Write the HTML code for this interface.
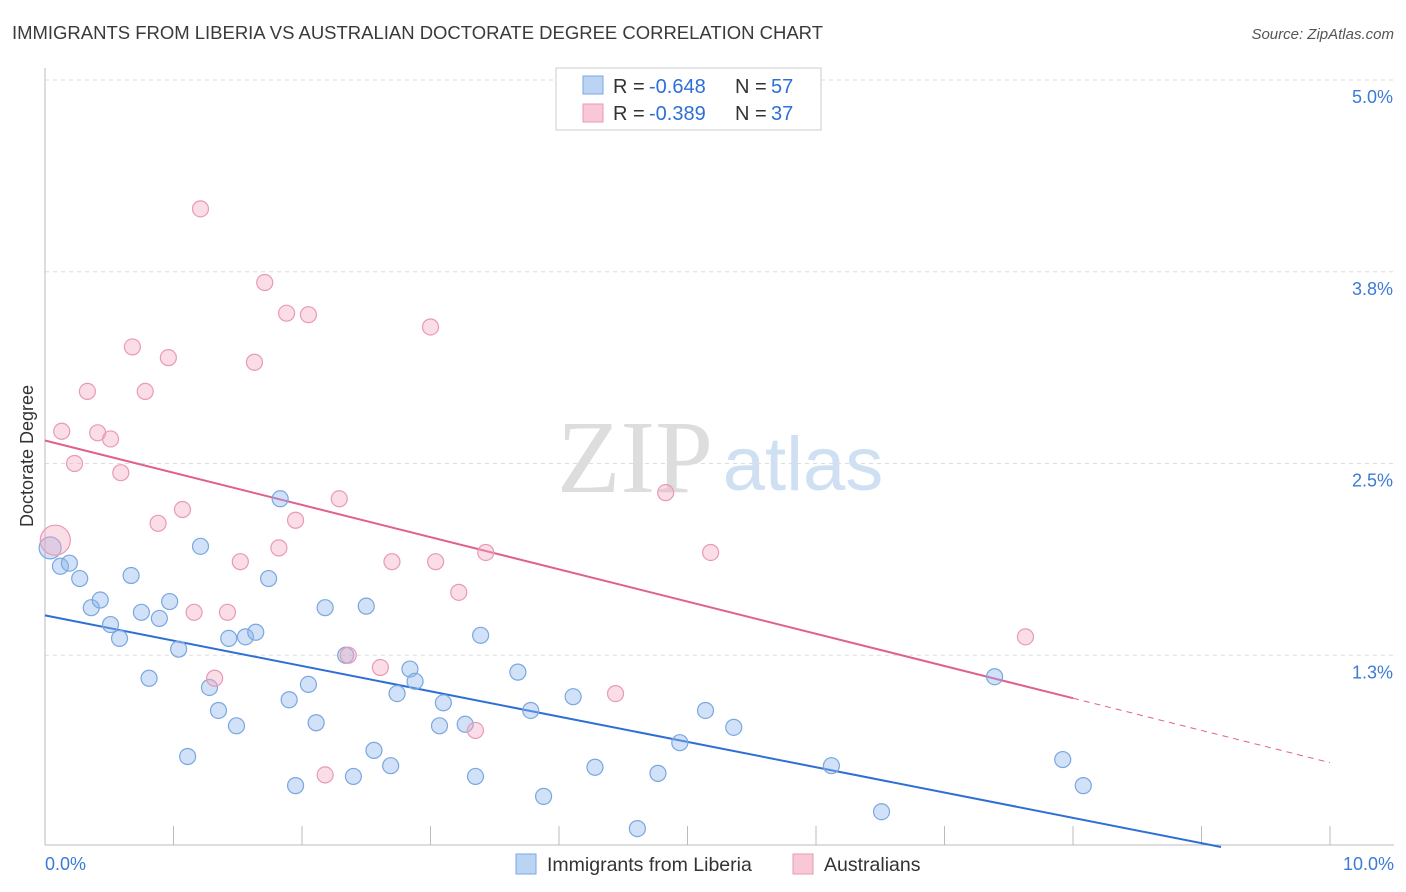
<!DOCTYPE html>
<html><head><meta charset="utf-8"><style>
body{margin:0;background:#fff;font-family:"Liberation Sans",sans-serif;}
#wrap{position:relative;width:1406px;height:892px;overflow:hidden;}
</style></head><body>
<div id="wrap">
<svg id="svg" width="1406" height="892" xmlns="http://www.w3.org/2000/svg">
<text x="12" y="39" font-size="18.5" fill="#3a3a3a" textLength="811">IMMIGRANTS FROM LIBERIA VS AUSTRALIAN DOCTORATE DEGREE CORRELATION CHART</text>
<text x="1394" y="39" font-size="15" fill="#555" font-style="italic" text-anchor="end">Source: ZipAtlas.com</text>
<text x="33" y="456" font-size="18" fill="#333" text-anchor="middle" transform="rotate(-90 33 456)">Doctorate Degree</text>
<g>
<text x="635" y="492" font-size="104" fill="#ddd" font-family="Liberation Serif,serif" text-anchor="middle">ZIP</text>
<text x="803" y="490" font-size="76" fill="#cfe0f3" text-anchor="middle">atlas</text>
</g>
<g id="grid"></g><g id="axes"></g><g id="lines"></g><g id="pts"></g>
<g>
<rect x="556" y="68" width="265" height="62" fill="#fff" stroke="#ccc"/>
<rect x="583" y="76" width="20" height="18" fill="#bcd4f4" stroke="#7aa7e0"/>
<g font-size="20">
<text x="613" y="93" fill="#333">R =</text><text x="649" y="93" fill="#2e6fd6">-0.648</text>
<text x="735" y="93" fill="#333">N =</text><text x="771" y="93" fill="#2e6fd6">57</text></g>
<rect x="583" y="104" width="20" height="18" fill="#f8c8d6" stroke="#e89ab3"/>
<g font-size="20">
<text x="613" y="120" fill="#333">R =</text><text x="649" y="120" fill="#2e6fd6">-0.389</text>
<text x="735" y="120" fill="#333">N =</text><text x="771" y="120" fill="#2e6fd6">37</text></g>
</g>
<g>
<rect x="516" y="854" width="20" height="20" fill="#bcd4f4" stroke="#7aa7e0"/>
<text x="547" y="871" font-size="19.5" fill="#333">Immigrants from Liberia</text>
<rect x="793" y="854" width="20" height="20" fill="#f8c8d6" stroke="#e89ab3"/>
<text x="824" y="871" font-size="19.5" fill="#333">Australians</text>
</g>
</svg>
</div>
<script>
const blueX=[0.04,0.12,0.19,0.27,0.36,0.43,0.51,0.58,0.67,0.75,0.81,0.89,0.97,1.04,1.11,1.21,1.28,1.35,1.43,1.49,1.56,1.64,1.74,1.83,1.90,1.95,2.05,2.11,2.18,2.34,2.40,2.50,2.56,2.69,2.74,2.84,2.88,3.07,3.10,3.27,3.35,3.39,3.68,3.78,3.88,4.11,4.28,4.61,4.77,4.94,5.14,5.36,6.12,6.51,7.39,7.92,8.08];
const blueY=[1.95,1.83,1.85,1.75,1.56,1.61,1.45,1.36,1.77,1.53,1.10,1.49,1.60,1.29,0.59,1.96,1.04,0.89,1.36,0.79,1.37,1.40,1.75,2.27,0.96,0.40,1.06,0.81,1.56,1.25,0.46,1.57,0.63,0.53,1.00,1.16,1.08,0.79,0.94,0.80,0.46,1.38,1.14,0.89,0.33,0.98,0.52,0.12,0.48,0.68,0.89,0.78,0.53,0.23,1.11,0.57,0.40];
const pinkX=[0.08,0.13,0.23,0.33,0.41,0.51,0.59,0.68,0.78,0.88,0.96,1.07,1.16,1.21,1.32,1.42,1.52,1.63,1.71,1.82,1.88,1.95,2.05,2.18,2.29,2.36,2.61,2.70,3.00,3.04,3.22,3.35,3.43,4.44,4.83,5.18,7.63];
const pinkY=[2.00,2.71,2.50,2.97,2.70,2.66,2.44,3.26,2.97,2.11,3.19,2.20,1.53,4.16,1.10,1.53,1.86,3.16,3.68,1.95,3.48,2.13,3.47,0.47,2.27,1.25,1.17,1.86,3.39,1.86,1.66,0.76,1.92,1.00,2.31,1.92,1.37];
const yTicks=[1.25,2.5,3.75,5.0];
const yTickLabels=["1.3%","2.5%","3.8%","5.0%"];
const blueFit=[1.51,-0.165];
const pinkFit=[2.65,-0.21];
const NS="http://www.w3.org/2000/svg";
const sx=v=>45+v*128.5, sy=v=>80+(5-v)*153.4;
function mk(tag,attrs,parent){const e=document.createElementNS(NS,tag);for(const k in attrs)e.setAttribute(k,attrs[k]);parent.appendChild(e);return e;}
const grid=document.getElementById('grid'),axes=document.getElementById('axes'),lines=document.getElementById('lines'),pts=document.getElementById('pts');
yTicks.forEach((t,i)=>{
 const l=mk('line',{x1:45,x2:1394,y1:sy(t),y2:sy(t),stroke:'#ddd','stroke-dasharray':'4,4'},grid);
 
 
 const tx=mk('text',{x:1393,y:sy(t)+23,'font-size':18,fill:'#3d7ad6','text-anchor':'end'},axes);
 tx.textContent=yTickLabels[i];
 
 
});
const xa=mk('line',{x1:45,x2:1394,y1:845,y2:845,stroke:'#bbb'},axes);


const ya=mk('line',{x1:45,x2:45,y1:68,y2:845,stroke:'#bbb'},axes);


for(let i=0;i<=10;i++){const tk=mk('line',{x1:sx(i),x2:sx(i),y1:826,y2:845,stroke:'#bbb'},axes);
 
 }
const xl0=mk('text',{x:45,y:870,'font-size':18,fill:'#3d7ad6'},axes);xl0.textContent='0.0%';


const xl1=mk('text',{x:1394,y:870,'font-size':18,fill:'#3d7ad6','text-anchor':'end'},axes);xl1.textContent='10.0%';


function drawPts(X,Y,fill,stroke,name){X.forEach((x,i)=>{
 const c=mk('circle',{cx:sx(x),cy:sy(Y[i]),r:8,fill:fill,stroke:stroke,'stroke-width':1.2},pts);
 
 });}
drawPts(blueX,blueY,'rgba(140,180,235,0.4)','#7aa7e0','liberia-point');
drawPts(pinkX,pinkY,'rgba(245,170,195,0.4)','#e89ab3','australians-point');
pts.children[0].setAttribute('r',11);
pts.children[blueX.length].setAttribute('r',15);
const bEnd=-blueFit[0]/blueFit[1];
const bl=mk('line',{x1:sx(0),y1:sy(blueFit[0]),x2:sx(bEnd),y2:sy(0),stroke:'#2e6fd6','stroke-width':2},lines);


const pl=mk('line',{x1:sx(0),y1:sy(pinkFit[0]),x2:sx(8),y2:sy(pinkFit[0]+8*pinkFit[1]),stroke:'#e0608e','stroke-width':2},lines);


const pd=mk('line',{x1:sx(8),y1:sy(pinkFit[0]+8*pinkFit[1]),x2:sx(10),y2:sy(pinkFit[0]+10*pinkFit[1]),stroke:'#e0608e','stroke-width':1,'stroke-dasharray':'6,5'},lines);


</script>
</body></html>
